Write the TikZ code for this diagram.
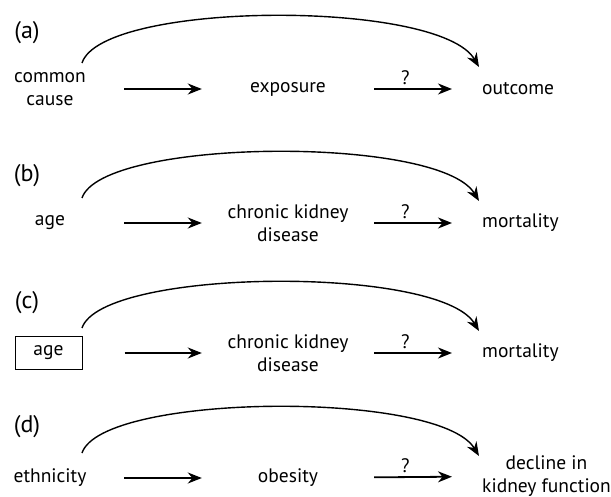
\documentclass[tikz,border=0pt]{standalone}
\usepackage{fontspec}
\setmainfont{PT Sans}
\usetikzlibrary{arrows.meta}

\begin{document}
\begin{tikzpicture}[x=1pt, y=1pt,
    every node/.style={font=\fontsize{19.5}{23}\selectfont},
    panel/.style={font=\fontsize{24}{26}\selectfont},
    cause/.style={minimum width=148pt, align=center, inner sep=0pt},
    middle/.style={minimum width=172pt, align=center, inner sep=0pt},
    effect/.style={anchor=west, inner xsep=30pt, inner ysep=0pt, align=center},
    link/.style={-{Stealth[length=14pt, width=11pt]}, line width=1.8pt},
    arc/.style={-{Stealth[length=14pt, width=11pt]}, line width=1.4pt}]
    \useasboundingbox (0,0) rectangle (611,-497);

    % (a)
    \node (a) [panel] at (27,-33) {(a)};
    \node (cause) [cause] at (50,-89) {common\\cause};
    \node (exposure) [middle] at (288,-89) {exposure};
    \node (outcome) [effect] at (452,-89) {outcome};
    \coordinate (a-from) at (82,-63);
    \coordinate (a-to) at (479,-67);
    \draw [link] (cause) -- (exposure);
    \draw [link] (exposure) -- node [above, pos=0.4] {?} (outcome);
    \draw [arc] (a-from) .. controls +(20,62) and +(-40,68) .. (a-to);

    % (b)
    \node (b) [panel] at (27,-176) {(b)};
    \node (age-b) [cause] at (50,-223) {age};
    \node (ckd-b) [middle] at (288,-223) {chronic kidney\\disease};
    \node (mortality-b) [effect] at (452,-223) {mortality};
    \coordinate (b-from) at (82,-198);
    \coordinate (b-to) at (479,-201);
    \draw [link] (age-b) -- (ckd-b);
    \draw [link] (ckd-b) -- node [above, pos=0.4] {?} (mortality-b);
    \draw [arc] (b-from) .. controls +(20,60) and +(-40,66) .. (b-to);

    % (c)
    \node (c) [panel] at (27,-303) {(c)};
    \node (age-c) [draw, line width=1pt, inner sep=0pt, minimum width=67pt, minimum height=33pt] at (48.5,-353) {age};
    \node (ckd-c) [middle] at (288,-353) {chronic kidney\\disease};
    \node (mortality-c) [effect] at (452,-353) {mortality};
    \coordinate (c-from) at (82,-328);
    \coordinate (c-to) at (479,-331);
    \draw [link, shorten <=42pt] (age-c) -- (ckd-c);
    \draw [link] (ckd-c) -- node [above, pos=0.4] {?} (mortality-c);
    \draw [arc] (c-from) .. controls +(20,60) and +(-40,66) .. (c-to);

    % (d)
    \node (d) [panel] at (27,-427) {(d)};
    \node (ethnicity) [cause] at (50,-478) {ethnicity};
    \node (obesity) [middle] at (288,-478) {obesity};
    \node (decline) [effect] at (452,-476) {decline in\\kidney function};
    \coordinate (d-from) at (82,-453);
    \coordinate (d-to) at (479,-456);
    \draw [link] (ethnicity) -- (obesity);
    \draw [link] (obesity) -- node [above, pos=0.4] {?} (decline);
    \draw [arc] (d-from) .. controls +(20,60) and +(-40,66) .. (d-to);
\end{tikzpicture}
\end{document}
